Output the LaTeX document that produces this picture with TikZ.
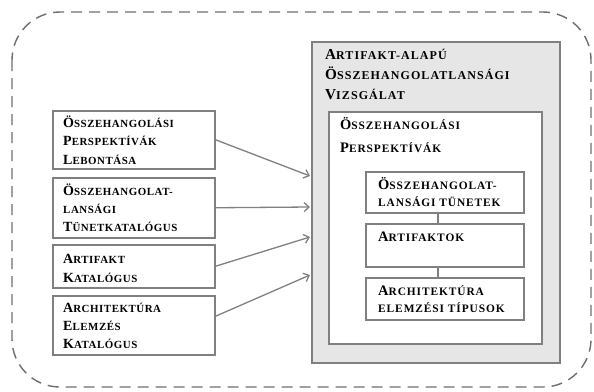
\documentclass[tikz,border=0pt]{standalone}
\usepackage{fontspec}
\setmainfont{Liberation Serif}[BoldFont={Liberation Serif Bold}, LetterSpace=5]
\usetikzlibrary{arrows.meta}
\definecolor{linegray}{HTML}{808080}
\definecolor{fillgray}{HTML}{E6E6E6}
\definecolor{dashgray}{HTML}{6E6E6E}
\def\smsz{10.5}
\newcommand\Sm[1]{{\fontsize{\smsz}{12}\selectfont #1}}
\tikzset{
  box/.style={draw=linegray, line width=1.5pt, fill=white, inner sep=0pt, anchor=north west},
  txt/.style={anchor=base west, inner sep=0pt, font=\fontsize{14}{15}\selectfont\bfseries\def\smsz{10.9}},
  txtg/.style={anchor=base west, inner sep=0pt, font=\fontsize{15.2}{16}\selectfont\bfseries\def\smsz{12}\addfontfeature{LetterSpace=9}},
  txtw/.style={anchor=base west, inner sep=0pt, font=\fontsize{14.5}{16}\selectfont\bfseries\def\smsz{11.4}\addfontfeature{LetterSpace=8}},
  conn/.style={draw=linegray, line width=1.3pt},
  arr/.style={conn, -{Straight Barb[length=5pt,width=9pt,line width=1.3pt]}}
}
\begin{document}
\begin{tikzpicture}[x=1pt,y=-1pt]
\useasboundingbox (0,0) rectangle (594,391);
\draw[dashgray, line width=1.4pt, dash pattern=on 11pt off 7pt, rounded corners=48pt] (12,12) rectangle (591,387);
% left boxes
\node[box, minimum width=162pt, minimum height=58pt] (b1) at (52,110) {};
\node[box, minimum width=162pt, minimum height=60pt] (b2) at (52,177) {};
\node[box, minimum width=162pt, minimum height=43pt] (b3) at (52,244) {};
\node[box, minimum width=162pt, minimum height=59pt] (b4) at (52,295) {};
% gray container
\node[box, fill=fillgray, minimum width=248pt, minimum height=321pt] (g) at (311,41) {};
\node[box, minimum width=213pt, minimum height=232pt] (w) at (328,111) {};
\node[box, minimum width=158pt, minimum height=41pt] (i1) at (365,171) {};
\node[box, minimum width=158pt, minimum height=43pt] (i2) at (365,223) {};
\node[box, minimum width=158pt, minimum height=42pt] (i3) at (365,277) {};
% texts left
\node[txt] (t11) at (63,127) {Ö\Sm{SSZEHANGOLÁSI}};
\node[txt] (t12) at (63,145) {P\Sm{ERSPEKTÍVÁK}};
\node[txt] (t13) at (63,164) {L\Sm{EBONTÁSA}};
\node[txt] (t21) at (63,195) {Ö\Sm{SSZEHANGOLAT-}};
\node[txt] (t22) at (63,213) {\Sm{LANSÁGI}};
\node[txt] (t23) at (63,231) {T\Sm{ÜNETKATALÓGUS}};
\node[txt] (t31) at (63,263) {A\Sm{RTIFAKT}};
\node[txt] (t32) at (63,282) {K\Sm{ATALÓGUS}};
\node[txt] (t41) at (63,312) {A\Sm{RCHITEKTÚRA}};
\node[txt] (t42) at (63,330) {E\Sm{LEMZÉS}};
\node[txt] (t43) at (63,348) {K\Sm{ATALÓGUS}};
% gray title
\node[txtg] (g1) at (325,59) {A\Sm{RTIFAKT-ALAPÚ}};
\node[txtg] (g2) at (325,79) {Ö\Sm{SSZEHANGOLATLANSÁGI}};
\node[txtg] (g3) at (325,99) {V\Sm{IZSGÁLAT}};
% white box title
\node[txtw] (w1) at (340,129) {Ö\Sm{SSZEHANGOLÁSI}};
\node[txtw] (w2) at (340,152) {P\Sm{ERSPEKTÍVÁK}};
% inner boxes
\node[txtw] (a1) at (378,189) {Ö\Sm{SSZEHANGOLAT-}};
\node[txtw] (a2) at (378,206) {\Sm{LANSÁGI TÜNETEK}};
\node[txtw] (c1) at (378,241) {A\Sm{RTIFAKTOK}};
\node[txtw] (d1) at (378,295) {A\Sm{RCHITEKTÚRA}};
\node[txtw] (d2) at (378,312) {\Sm{ELEMZÉSI TÍPUSOK}};
% connectors inner
\coordinate (vx) at (438,0);
\draw[conn] (i1.south -| vx) -- (i2.north -| vx);
\draw[conn] (i2.south -| vx) -- (i3.north -| vx);
% arrows
\coordinate (e1) at (310,176);
\coordinate (e2) at (310,207);
\coordinate (e3) at (310,237);
\coordinate (e4) at (310,275);
\draw[arr] (b1.east) -- (e1);
\draw[arr] (b2.east) -- (e2);
\draw[arr] (b3.east) -- (e3);
\draw[arr] ([yshift=9pt]b4.east) -- (e4);
\end{tikzpicture}
\end{document}
